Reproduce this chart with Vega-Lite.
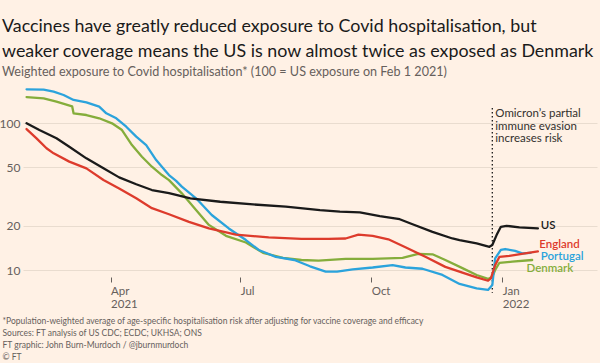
{
  "$schema": "https://vega.github.io/schema/vega-lite/v6.json",
  "width": 574,
  "height": 191,
  "autosize": {"type": "none"},
  "padding": {"left": 23, "top": 86, "right": 3, "bottom": 86},
  "background": "#FFF1E5",
  "config": {"view": {"stroke": null}, "font": "Lato"},
  "title": {
    "text": ["Vaccines have greatly reduced exposure to Covid hospitalisation, but", "weaker coverage means the US is now almost twice as exposed as Denmark"],
    "subtitle": "Weighted exposure to Covid hospitalisation* (100 = US exposure on Feb 1 2021)",
    "anchor": "start",
    "frame": "group",
    "dx": -21,
    "font": "Lato",
    "fontSize": 17.85,
    "fontWeight": "normal",
    "lineHeight": 24.5,
    "color": "#1a1a1a",
    "subtitleFont": "Lato",
    "subtitleFontSize": 12.6,
    "subtitleColor": "#66605c",
    "subtitlePadding": 6,
    "offset": 7
  },
  "datasets": {
    "series": [
      {"c": "Denmark", "d": "2021-02-01", "v": 151},
      {"c": "Denmark", "d": "2021-02-13", "v": 148},
      {"c": "Denmark", "d": "2021-02-22", "v": 140.4},
      {"c": "Denmark", "d": "2021-03-05", "v": 130.6},
      {"c": "Denmark", "d": "2021-03-06", "v": 117},
      {"c": "Denmark", "d": "2021-03-15", "v": 113.9},
      {"c": "Denmark", "d": "2021-03-24", "v": 108.2},
      {"c": "Denmark", "d": "2021-04-02", "v": 100},
      {"c": "Denmark", "d": "2021-04-09", "v": 90},
      {"c": "Denmark", "d": "2021-04-16", "v": 71.1},
      {"c": "Denmark", "d": "2021-04-23", "v": 59.2},
      {"c": "Denmark", "d": "2021-04-30", "v": 50.6},
      {"c": "Denmark", "d": "2021-05-07", "v": 44.4},
      {"c": "Denmark", "d": "2021-05-12", "v": 41.0},
      {"c": "Denmark", "d": "2021-05-21", "v": 33.3},
      {"c": "Denmark", "d": "2021-05-31", "v": 25.6},
      {"c": "Denmark", "d": "2021-06-09", "v": 20.3},
      {"c": "Denmark", "d": "2021-06-21", "v": 17.1},
      {"c": "Denmark", "d": "2021-07-05", "v": 15.4},
      {"c": "Denmark", "d": "2021-07-17", "v": 13.1},
      {"c": "Denmark", "d": "2021-07-31", "v": 12.1},
      {"c": "Denmark", "d": "2021-08-13", "v": 11.7},
      {"c": "Denmark", "d": "2021-08-25", "v": 11.6},
      {"c": "Denmark", "d": "2021-09-13", "v": 11.9},
      {"c": "Denmark", "d": "2021-10-02", "v": 11.9},
      {"c": "Denmark", "d": "2021-10-23", "v": 12.1},
      {"c": "Denmark", "d": "2021-11-03", "v": 12.9},
      {"c": "Denmark", "d": "2021-11-13", "v": 12.8},
      {"c": "Denmark", "d": "2021-11-22", "v": 11.7},
      {"c": "Denmark", "d": "2021-12-04", "v": 10.3},
      {"c": "Denmark", "d": "2021-12-14", "v": 9.25},
      {"c": "Denmark", "d": "2021-12-22", "v": 8.69},
      {"c": "Denmark", "d": "2021-12-25", "v": 9.0},
      {"c": "Denmark", "d": "2021-12-27", "v": 10.0},
      {"c": "Denmark", "d": "2021-12-30", "v": 11.2},
      {"c": "Denmark", "d": "2022-01-08", "v": 11.4},
      {"c": "Denmark", "d": "2022-01-22", "v": 11.7},
      {"c": "Portugal", "d": "2021-02-01", "v": 170.5},
      {"c": "Portugal", "d": "2021-02-13", "v": 169.4},
      {"c": "Portugal", "d": "2021-02-20", "v": 164.2},
      {"c": "Portugal", "d": "2021-02-27", "v": 156},
      {"c": "Portugal", "d": "2021-03-06", "v": 144.2},
      {"c": "Portugal", "d": "2021-03-15", "v": 139.0},
      {"c": "Portugal", "d": "2021-03-24", "v": 129.8},
      {"c": "Portugal", "d": "2021-03-29", "v": 117.0},
      {"c": "Portugal", "d": "2021-04-05", "v": 108.2},
      {"c": "Portugal", "d": "2021-04-12", "v": 94.8},
      {"c": "Portugal", "d": "2021-04-19", "v": 81.1},
      {"c": "Portugal", "d": "2021-04-26", "v": 71.1},
      {"c": "Portugal", "d": "2021-05-03", "v": 56.2},
      {"c": "Portugal", "d": "2021-05-10", "v": 46.8},
      {"c": "Portugal", "d": "2021-05-12", "v": 44.4},
      {"c": "Portugal", "d": "2021-05-17", "v": 40.5},
      {"c": "Portugal", "d": "2021-05-21", "v": 37.0},
      {"c": "Portugal", "d": "2021-05-31", "v": 30.8},
      {"c": "Portugal", "d": "2021-06-11", "v": 23.7},
      {"c": "Portugal", "d": "2021-06-23", "v": 19.2},
      {"c": "Portugal", "d": "2021-07-05", "v": 16.0},
      {"c": "Portugal", "d": "2021-07-14", "v": 13.7},
      {"c": "Portugal", "d": "2021-07-26", "v": 12.3},
      {"c": "Portugal", "d": "2021-08-08", "v": 11.7},
      {"c": "Portugal", "d": "2021-08-19", "v": 10.6},
      {"c": "Portugal", "d": "2021-08-30", "v": 9.74},
      {"c": "Portugal", "d": "2021-09-07", "v": 9.74},
      {"c": "Portugal", "d": "2021-09-18", "v": 10.1},
      {"c": "Portugal", "d": "2021-10-02", "v": 10.4},
      {"c": "Portugal", "d": "2021-10-16", "v": 10.8},
      {"c": "Portugal", "d": "2021-10-25", "v": 10.4},
      {"c": "Portugal", "d": "2021-11-06", "v": 10.2},
      {"c": "Portugal", "d": "2021-11-20", "v": 9.25},
      {"c": "Portugal", "d": "2021-12-02", "v": 8.03},
      {"c": "Portugal", "d": "2021-12-14", "v": 7.5},
      {"c": "Portugal", "d": "2021-12-22", "v": 7.31},
      {"c": "Portugal", "d": "2021-12-25", "v": 7.9},
      {"c": "Portugal", "d": "2021-12-27", "v": 12.0},
      {"c": "Portugal", "d": "2021-12-31", "v": 13.7},
      {"c": "Portugal", "d": "2022-01-03", "v": 13.9},
      {"c": "Portugal", "d": "2022-01-10", "v": 13.5},
      {"c": "Portugal", "d": "2022-01-15", "v": 13.0},
      {"c": "Portugal", "d": "2022-01-21", "v": 13.1},
      {"c": "England", "d": "2021-02-01", "v": 91.4},
      {"c": "England", "d": "2021-02-08", "v": 79.0},
      {"c": "England", "d": "2021-02-15", "v": 67.6},
      {"c": "England", "d": "2021-02-20", "v": 62.4},
      {"c": "England", "d": "2021-03-03", "v": 54.8},
      {"c": "England", "d": "2021-03-15", "v": 49.3},
      {"c": "England", "d": "2021-03-27", "v": 41.1},
      {"c": "England", "d": "2021-04-07", "v": 36.0},
      {"c": "England", "d": "2021-04-19", "v": 30.8},
      {"c": "England", "d": "2021-04-30", "v": 26.4},
      {"c": "England", "d": "2021-05-12", "v": 24.0},
      {"c": "England", "d": "2021-05-26", "v": 21.3},
      {"c": "England", "d": "2021-06-09", "v": 19.2},
      {"c": "England", "d": "2021-06-28", "v": 17.4},
      {"c": "England", "d": "2021-07-21", "v": 16.7},
      {"c": "England", "d": "2021-08-13", "v": 16.3},
      {"c": "England", "d": "2021-09-01", "v": 16.3},
      {"c": "England", "d": "2021-09-13", "v": 16.4},
      {"c": "England", "d": "2021-09-22", "v": 17.4},
      {"c": "England", "d": "2021-10-02", "v": 17.1},
      {"c": "England", "d": "2021-10-13", "v": 16.2},
      {"c": "England", "d": "2021-10-25", "v": 14.3},
      {"c": "England", "d": "2021-11-08", "v": 12.3},
      {"c": "England", "d": "2021-11-22", "v": 10.5},
      {"c": "England", "d": "2021-12-04", "v": 9.59},
      {"c": "England", "d": "2021-12-14", "v": 8.91},
      {"c": "England", "d": "2021-12-22", "v": 8.45},
      {"c": "England", "d": "2021-12-24", "v": 8.77},
      {"c": "England", "d": "2021-12-27", "v": 10.8},
      {"c": "England", "d": "2021-12-30", "v": 12.3},
      {"c": "England", "d": "2022-01-06", "v": 12.5},
      {"c": "England", "d": "2022-01-17", "v": 13.0},
      {"c": "England", "d": "2022-01-26", "v": 13.4},
      {"c": "US", "d": "2021-02-01", "v": 100},
      {"c": "US", "d": "2021-02-10", "v": 90},
      {"c": "US", "d": "2021-02-22", "v": 79},
      {"c": "US", "d": "2021-03-03", "v": 69.3},
      {"c": "US", "d": "2021-03-15", "v": 57.7},
      {"c": "US", "d": "2021-03-27", "v": 49.3},
      {"c": "US", "d": "2021-04-07", "v": 42.8},
      {"c": "US", "d": "2021-04-19", "v": 38.4},
      {"c": "US", "d": "2021-04-30", "v": 35.1},
      {"c": "US", "d": "2021-05-12", "v": 33.4},
      {"c": "US", "d": "2021-05-27", "v": 30.8},
      {"c": "US", "d": "2021-06-17", "v": 29.2},
      {"c": "US", "d": "2021-07-10", "v": 28.0},
      {"c": "US", "d": "2021-08-02", "v": 27.0},
      {"c": "US", "d": "2021-08-26", "v": 25.6},
      {"c": "US", "d": "2021-09-09", "v": 25.0},
      {"c": "US", "d": "2021-09-23", "v": 24.7},
      {"c": "US", "d": "2021-10-07", "v": 23.3},
      {"c": "US", "d": "2021-10-21", "v": 22.2},
      {"c": "US", "d": "2021-10-30", "v": 20.5},
      {"c": "US", "d": "2021-11-13", "v": 18.2},
      {"c": "US", "d": "2021-11-27", "v": 16.4},
      {"c": "US", "d": "2021-12-02", "v": 16.0},
      {"c": "US", "d": "2021-12-14", "v": 15.2},
      {"c": "US", "d": "2021-12-23", "v": 14.4},
      {"c": "US", "d": "2021-12-25", "v": 14.8},
      {"c": "US", "d": "2021-12-28", "v": 17.3},
      {"c": "US", "d": "2021-12-31", "v": 19.7},
      {"c": "US", "d": "2022-01-04", "v": 20.0},
      {"c": "US", "d": "2022-01-13", "v": 19.5},
      {"c": "US", "d": "2022-01-26", "v": 19.2}
    ],
    "labels": [
      {"c": "US", "d": "2022-01-28", "v": 19.95},
      {"c": "England", "d": "2022-01-27", "v": 14.75},
      {"c": "Portugal", "d": "2022-01-28", "v": 12.25},
      {"c": "Denmark", "d": "2022-01-18", "v": 10.1}
    ],
    "notes": [
      {"d": "2021-12-25", "v": 127, "v2": 7, "note": "Omicron’s partial\nimmune evasion\nincreases risk"}
    ]
  },
  "encoding": {
    "x": {
      "field": "d",
      "type": "temporal",
      "scale": {
        "type": "utc",
        "domain": [
          {"year": 2021, "month": 1, "date": 29, "hours": 12, "utc": true},
          {"year": 2022, "month": 3, "date": 8, "hours": 12, "utc": true}
        ]
      },
      "axis": {
        "values": [
          {"year": 2021, "month": 4, "date": 1, "utc": true},
          {"year": 2021, "month": 7, "date": 1, "utc": true},
          {"year": 2021, "month": 10, "date": 1, "utc": true},
          {"year": 2022, "month": 1, "date": 1, "utc": true}
        ],
        "labelExpr": "(utcmonth(datum.value) == 3 || utcmonth(datum.value) == 0) ? [utcFormat(datum.value, '%b'), utcFormat(datum.value, '%Y')] : utcFormat(datum.value, '%b')",
        "grid": false,
        "domain": false,
        "ticks": true,
        "tickSize": 5,
        "tickColor": "#66605c",
        "labelAlign": "left",
        "labelBaseline": "top",
        "labelPadding": 3,
        "labelLineHeight": 13,
        "labelFontSize": 11.5,
        "labelColor": "#66605c",
        "labelFont": "Lato",
        "labelOverlap": false,
        "labelFlush": false,
        "title": [
          "*Population-weighted average of age-specific hospitalisation risk after adjusting for vaccine coverage and efficacy",
          "Sources: FT analysis of US CDC; ECDC; UKHSA; ONS",
          "FT graphic: John Burn-Murdoch / @jburnmurdoch",
          "© FT"
        ],
        "titleFont": "Lato",
        "titleFontSize": 8.5,
        "titleFontWeight": "normal",
        "titleColor": "#66605c",
        "titleX": -21,
        "titleY": 39,
        "titleAlign": "left",
        "titleAnchor": "start",
        "titleBaseline": "top",
        "titleLineHeight": 12
      }
    },
    "y": {
      "field": "v",
      "type": "quantitative",
      "scale": {"type": "log", "domain": [8.96, 179.6], "nice": false},
      "axis": {
        "values": [10, 20, 50, 100],
        "grid": true,
        "gridColor": "#e9dccf",
        "gridWidth": 1,
        "domain": false,
        "ticks": false,
        "tickSize": 0,
        "labelPadding": 3,
        "labelFontSize": 12,
        "labelColor": "#66605c",
        "labelFont": "Lato",
        "title": null
      }
    }
  },
  "layer": [
    {
      "data": {"name": "notes"},
      "mark": {"type": "rule", "strokeDash": [1.5, 2.5], "strokeWidth": 1.3, "color": "#1a1a1a"},
      "encoding": {"y2": {"field": "v2"}}
    },
    {
      "data": {"name": "notes"},
      "mark": {"type": "text", "align": "left", "baseline": "top", "dx": 3, "lineBreak": "\n", "fontSize": 11.5, "lineHeight": 12.5, "color": "#33302e", "font": "Lato"},
      "encoding": {"text": {"field": "note"}}
    },
    {
      "data": {"name": "series"},
      "mark": {"type": "line", "strokeWidth": 2.3, "clip": false, "strokeJoin": "round", "strokeCap": "round"},
      "encoding": {
        "color": {
          "field": "c",
          "type": "nominal",
          "scale": {"domain": ["Denmark", "Portugal", "England", "US"], "range": ["#85ad3b", "#2ba3dc", "#dd3b2c", "#1a1a1a"]},
          "legend": null
        },
        "order": {"field": "d", "type": "temporal"}
      }
    },
    {
      "data": {"name": "labels"},
      "mark": {"type": "text", "align": "left", "baseline": "middle", "fontSize": 11.5, "fontWeight": 600, "font": "Lato"},
      "encoding": {
        "text": {"field": "c"},
        "color": {"field": "c", "type": "nominal", "legend": null}
      }
    }
  ]
}
